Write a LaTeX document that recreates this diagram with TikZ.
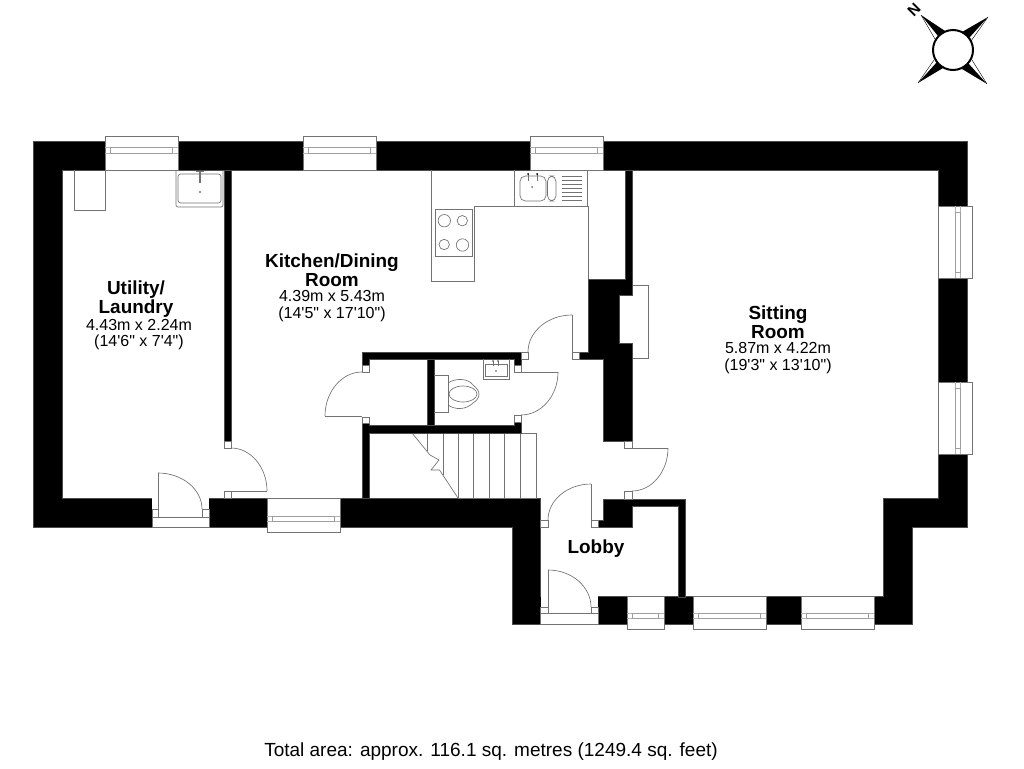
\documentclass[tikz,border=0pt]{standalone}
\usepackage{fontspec}
\setmainfont{Liberation Sans}[Ligatures=TeXOff]
\usetikzlibrary{calc}
\tikzset{
  wall/.style={fill=black,draw=black!70,line width=0.3pt},
  fixture/.style={draw=black!55,line width=0.5pt,fill=none},
  opening/.style={fill=white,draw=black!55,line width=0.5pt},
  winframe/.style={draw=black!30,line width=0.5pt},
  glass/.style={draw=black!38,line width=0.4pt},
  roomname/.style={font=\fontsize{14.2}{14.25}\selectfont\bfseries,align=center,inner sep=0pt},
  roomsize/.style={font=\fontsize{12}{12.4}\selectfont,align=center,inner sep=0pt},
}
\newcommand{\swing}[3]{\draw[fixture] (#1) .. controls ($(#1)!.55!(#2)$) and ($(#3)!.55!(#2)$) .. (#3);}
% horizontal window: x1 x2 ytop ybottom glasstop glassbottom
\newcommand{\hwin}[6]{%
  \draw[opening] (#1,#3) rectangle (#2,#4);
  \draw[winframe] (#1,#5) -- (#2,#5) (#1,#6) -- (#2,#6);
  \draw[glass] (#1+5.5,#5) rectangle (#2-5.5,#6);}
% vertical window on right wall
\newcommand{\vwin}[2]{%
  \draw[opening] (938,#1) rectangle (972,#2);
  \draw[winframe] (955,#1) -- (955,#2) (960,#1) -- (960,#2);
  \draw[glass] (955,#1+6) rectangle (960,#2-6);}
\begin{document}
\begin{tikzpicture}[x=0.75pt,y=-0.75pt]
\useasboundingbox (0,0) rectangle (1024,768);
\fill[white] (0,0) rectangle (1024,768);

% ---- outer walls
\fill[wall] (33,141) -- (967,141) -- (967,527) -- (912,527) -- (912,624) -- (512,624) -- (512,527)
  -- (33,527) -- cycle;
\fill[white] (62,170) -- (938,170) -- (938,498) -- (883,498) -- (883,596) -- (540,596) -- (540,498) -- (62,498) -- cycle;
\draw[wall,fill=none] (62,170) -- (938,170) -- (938,498) -- (883,498) -- (883,596) -- (540,596) -- (540,498) -- (62,498) -- cycle;

% ---- bottom door openings in thick walls
\fill[white] (541,596) rectangle (598,625);
\fill[white] (152,498) rectangle (209,528);

% ---- fixed fittings under the walls
% utility
\draw[fixture] (74.5,170) -- (74.5,210) -- (105,210) -- (105,170);
\draw[fixture] (176,170) [rounded corners=1.5pt] -- (176,207) -- (223,207) -- (223,170);
\draw[fixture,rounded corners=2pt] (178,174) rectangle (221,203);
\draw[fixture,line width=0.9pt] (200,172) -- (200,183);
\draw[fixture] (196,171.5) -- (204,171.5);
\fill[black!55] (200,192) circle (1.1);

% kitchen units
\draw[fixture] (431,170) -- (431,281) -- (474.5,281) -- (474.5,206) -- (588,206) -- (588,279);
\draw[fixture] (514.5,170) -- (514.5,206) (587,170) -- (587,206);
\draw[fixture] (435,209) rectangle (472,256.5);
\draw[fixture] (444.3,220.7) circle (6.2) (462.3,220.7) circle (5.2)
               (444.2,244.5) circle (5.2) (462.5,245) circle (6.2);
\draw[fixture,rounded corners=4pt] (520,176) rectangle (546,201);
\draw[fixture,rounded corners=4pt] (547.5,176) rectangle (556,201);
\foreach \y in {176,180,184,188,192,196,200} \draw[fixture] (562,\y) -- (582,\y);
\draw[fixture] (528,174) -- (528,181) (537,174) -- (537,181);
\fill[black] (528,174) circle (1) (537,174) circle (1);
\fill[black!55] (532,187) circle (1);

% chimney hearth
\draw[fixture] (632,285) -- (648.5,285) -- (648.5,358) -- (632,358);

% stairs
\draw[fixture] (521,433) -- (536,433) -- (536,498) -- (458,498);
\foreach \x in {458,473,489,504,520} \draw[fixture] (\x,433) -- (\x,498);
\draw[fixture] (427,433) -- (427,451) (443,433) -- (443,475);
\draw[fixture] (412,433) -- (430,455) -- (439,460) -- (431,470) -- (439.5,470) -- (458,498);

% ---- interior walls
\fill[wall] (625,170) -- (632,170) -- (632,295) -- (619,295) -- (619,343) -- (632,343) -- (632,441)
  -- (603,441) -- (603,359) -- (579,359) -- (579,352) -- (588,352) -- (588,279) -- (625,279) -- cycle;
\fill[wall] (224,170) rectangle (231,441);
\fill[wall] (362,352) -- (521,352) -- (521,365) -- (514,365) -- (514,359) -- (369,359) -- (369,365) -- (362,365) -- cycle;
\fill[wall] (427,359) rectangle (434,425);
\fill[wall] (362,423) -- (369,423) -- (369,425) -- (514,425) -- (514,422) -- (521,422) -- (521,433) -- (369,433)
  -- (369,498) -- (362,498) -- cycle;
\fill[wall] (603,499) -- (685,499) -- (685,597) -- (678,597) -- (678,506) -- (632,506) -- (632,527) -- (598,527)
  -- (598,520) -- (603,520) -- cycle;

% ---- door jambs
\foreach \a/\b/\c/\d in {521/528/352/359, 572/579/352/359, 362/369/365/372, 362/369/417/423,
    514/521/365/372, 514/521/415/422, 624/632/441/448, 624/632/491/499,
    540/548/520/527, 591/598/520/527, 540/548/607/613, 591/598/607/613,
    152/158/509/517, 202/209/509/517, 224/231/441/448, 224/231/491/498}
  \draw[opening] (\a,\c) rectangle (\b,\d);
\draw[opening] (152,517) rectangle (209,527);
\draw[opening] (540,613) rectangle (598,624);

% ---- door leaves and swings
\draw[fixture] (572,352) -- (572,315);
\swing{572,315}{528,315}{528,352}
\draw[fixture] (362,416) -- (325,416);
\swing{325,416}{325,372}{362,372}
\draw[fixture] (521,372) -- (558,372);
\swing{558,372}{558,415}{521,415}
\draw[fixture] (632,448) -- (668,448);
\swing{668,448}{668,491}{632,491}
\draw[fixture] (591,520) -- (591,484);
\swing{591,484}{548,484}{548,520}
\draw[fixture] (548,607) -- (548,570);
\swing{548,570}{591,570}{591,607}
\draw[fixture] (158,509) -- (158,473);
\swing{158,473}{202,473}{202,509}
\draw[fixture] (231,491) -- (267,491);
\swing{267,491}{267,448}{231,448}

% ---- WC fittings
\draw[fixture] (434,375) -- (448,375) -- (448,412.5) -- (434,412.5);
\draw[fixture] (448,383) .. controls (455,378) and (468,378) .. (473,385)
   .. controls (481,391) and (481,398) .. (473,403) .. controls (466,410) and (455,410) .. (448,405);
\draw[fixture] (463,394) ellipse (14 and 8);
\draw[fixture] (483,359) -- (483,379) -- (509.5,379) -- (509.5,359);
\draw[fixture] (485,364) -- (485,376) -- (507,376) -- (507,364) -- cycle;
\draw[fixture] (493,361) -- (493,366) (498,361) -- (498,366);
\fill[black!70] (493,361) circle (0.9) (498,361) circle (0.9) (496,371) circle (0.9);

% ---- windows
\hwin{105}{178}{136}{170}{147}{153}
\hwin{303}{376}{136}{170}{147}{153}
\hwin{530}{603}{136}{170}{147}{153}
\hwin{267}{340}{498}{532}{516}{521}
\hwin{627}{664}{596}{629}{613}{618}
\hwin{693}{766}{596}{629}{613}{618}
\hwin{801}{874}{596}{629}{613}{618}
\vwin{206}{278}
\vwin{382}{454}

% ---- compass
\fill[black] (921,15) -- (945,31) -- (938,36) -- cycle;
\fill[black] (988,17) -- (962,32) -- (969,38) -- cycle;
\fill[black] (918,83) -- (943,68) -- (937,62) -- cycle;
\fill[black] (987,84) -- (962,69) -- (968,63) -- cycle;
\draw[black,line width=0.3pt] (921,15) -- (935,39) (988,17) -- (971,41) (918,83) -- (934,60) (987,84) -- (972,60);
\draw[black,line width=1.5pt,fill=white] (953,50) circle (20);
\node[inner sep=0pt,rotate=45,font=\fontsize{11.5}{12}\selectfont\bfseries] (north) at (914,9.5) {N};

% ---- labels
\node[roomname] (utility) at (136,299) {Utility/\\Laundry};
\node[roomsize] (utilitysize) at (139,334.5) {4.43m x 2.24m\\(14'6" x 7'4")};
\node[roomname] (kitchen) at (332,270) {Kitchen/Dining\\Room};
\node[roomsize] (kitchensize) at (332,306) {4.39m x 5.43m\\(14'5" x 17'10")};
\node[roomname] (sitting) at (778,322.5) {Sitting\\Room};
\node[roomsize] (sittingsize) at (778,358) {5.87m x 4.22m\\(19'3" x 13'10")};
\node[roomname] (lobby) at (596,549) {Lobby};
\node[inner sep=0pt,font=\fontsize{14.25}{15}\selectfont] (total) at (491,752) {Total area: approx. 116.1 sq. metres (1249.4 sq. feet)};
\end{tikzpicture}
\end{document}
